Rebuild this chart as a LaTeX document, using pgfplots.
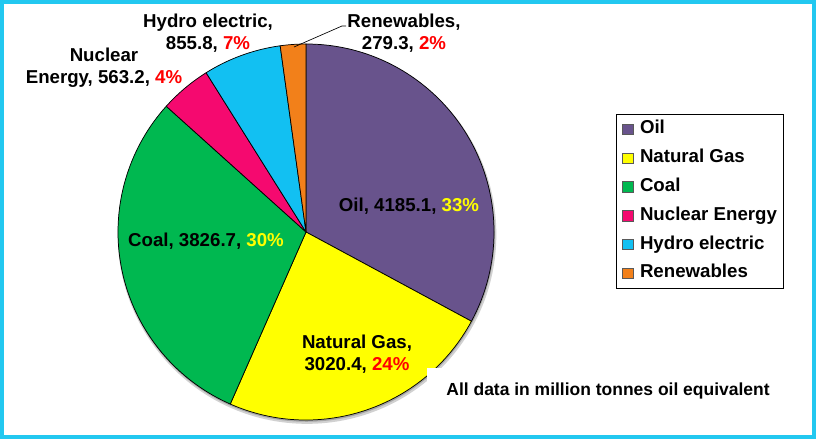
\documentclass[border=0pt]{standalone}
\usepackage{pgfplots}
\pgfplotsset{compat=1.18}
\usepackage{pgfplotstable}
\usepackage{fontspec}
\setmainfont{Liberation Sans}

\definecolor{oilc}{HTML}{68538C}
\definecolor{gasc}{HTML}{FFFF00}
\definecolor{coalc}{HTML}{00B850}
\definecolor{nucc}{HTML}{F5096F}
\definecolor{hydc}{HTML}{12C0F2}
\definecolor{renc}{HTML}{F2801A}
\definecolor{framec}{HTML}{22C8F0}
\definecolor{pctred}{HTML}{FF0000}
\definecolor{pctyel}{HTML}{FFFF00}

\pgfplotstableread[col sep=comma]{
name,value,color
Oil,4185.1,oilc
Natural Gas,3020.4,gasc
Coal,3826.7,coalc
Nuclear Energy,563.2,nucc
Hydro electric,855.8,hydc
Renewables,279.3,renc
}\energy

\newcommand\lbl{\fontsize{14pt}{16.5pt}\selectfont\bfseries}

\begin{document}
\begin{tikzpicture}
\pgfplotstablegetrowsof{\energy}
\pgfmathtruncatemacro\lastrow{\pgfplotsretval-1}
\def\total{0}
\pgfplotsforeachungrouped \i in {0,...,\lastrow}{%
  \pgfplotstablegetelem{\i}{value}\of\energy
  \pgfmathsetmacro\total{\total+\pgfplotsretval}%
}
\def\cur{90}
\pgfplotsforeachungrouped \i in {0,...,\lastrow}{%
  \pgfplotstablegetelem{\i}{value}\of\energy
  \pgfmathsetmacro\nxt{\cur-360*(\pgfplotsretval/\total)}%
  \expandafter\xdef\csname sa\i\endcsname{\cur}%
  \expandafter\xdef\csname ea\i\endcsname{\nxt}%
  \pgfplotstablegetelem{\i}{color}\of\energy
  \expandafter\xdef\csname sc\i\endcsname{\pgfplotsretval}%
  \global\let\cur\nxt
}
\begin{axis}[
  scale only axis, width=612pt, height=329.25pt,
  xmin=0, xmax=816, ymin=0, ymax=439,
  hide axis, clip=false,
  legend image code/.code={\draw[#1, draw=black!65, line width=0.4pt] (0pt,-3.9pt) rectangle (7.8pt,3.9pt);},
  legend cell align=left,
  legend style={at={(0.7549,0.7403)}, anchor=north west, draw=black, line width=0.6pt,
    font=\fontsize{14pt}{16pt}\selectfont\bfseries,
    nodes={inner sep=0pt, text height=10pt, text depth=3pt},
    row sep=8.6pt, column sep=5pt, inner xsep=4.5pt, inner ysep=4.6pt},
]
\fill[framec] (axis cs:0,0) rectangle (axis cs:816,439);
\fill[white] (axis cs:4,4) rectangle (axis cs:812,435);
\fill[black!18] (axis cs:307,204.5) circle[radius=142pt];
\fill[black!35] (axis cs:306.5,205.5) circle[radius=141.2pt];
\pgfplotsinvokeforeach{0,...,5}{
  \filldraw[fill=\csname sc#1\endcsname, draw=black, line width=0.55pt, line join=round]
    (axis cs:306,207) -- ++(\csname sa#1\endcsname:141pt)
    arc[start angle=\csname sa#1\endcsname, end angle=\csname ea#1\endcsname, radius=141pt] -- cycle;
}
\fill[white] (axis cs:427,19) rectangle (axis cs:805,71);
\draw[black, line width=0.5pt] (axis cs:346,413) -- (axis cs:342,413) -- (axis cs:294,392);

\node[font=\lbl] at (axis cs:409,233) {Oil, 4185.1, \textcolor{pctyel}{33\%}};
\node[font=\lbl, align=center] at (axis cs:357,85) {Natural Gas,\\3020.4, \textcolor{pctred}{24\%}};
\node[font=\lbl] at (axis cs:206,198) {Coal, 3826.7, \textcolor{pctyel}{30\%}};
\node[font=\lbl, align=center] at (axis cs:104,371) {Nuclear\\Energy, 563.2, \textcolor{pctred}{4\%}};
\node[font=\lbl, align=center] at (axis cs:208,406) {Hydro electric,\\855.8, \textcolor{pctred}{7\%}};
\node[font=\lbl, align=center] at (axis cs:404,406) {Renewables,\\279.3, \textcolor{pctred}{2\%}};
\node[font=\fontsize{13.1pt}{15pt}\selectfont\bfseries] at (axis cs:608,48) {All data in million tonnes oil equivalent};

\addlegendimage{fill=oilc}\addlegendentry{Oil}
\addlegendimage{fill=gasc}\addlegendentry{Natural Gas}
\addlegendimage{fill=coalc}\addlegendentry{Coal}
\addlegendimage{fill=nucc}\addlegendentry{Nuclear Energy}
\addlegendimage{fill=hydc}\addlegendentry{Hydro electric}
\addlegendimage{fill=renc}\addlegendentry{Renewables}
\end{axis}
\end{tikzpicture}
\end{document}
